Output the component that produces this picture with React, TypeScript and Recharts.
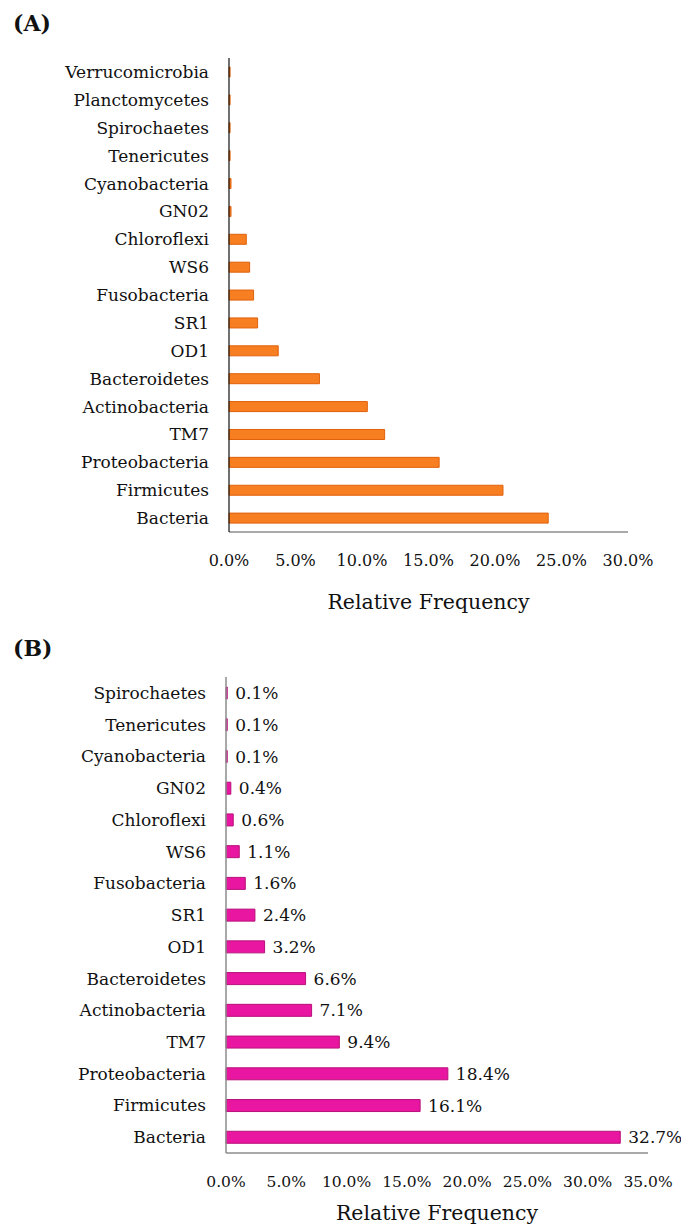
import { BarChart, Bar, XAxis, YAxis, LabelList } from "recharts";

// Panel A categories (top to bottom) and relative frequency (%)
const taxaA = [
  "Verrucomicrobia",
  "Planctomycetes",
  "Spirochaetes",
  "Tenericutes",
  "Cyanobacteria",
  "GN02",
  "Chloroflexi",
  "WS6",
  "Fusobacteria",
  "SR1",
  "OD1",
  "Bacteroidetes",
  "Actinobacteria",
  "TM7",
  "Proteobacteria",
  "Firmicutes",
  "Bacteria",
];
const freqA = [
  0.08, 0.08, 0.08, 0.08, 0.15, 0.15, 1.3, 1.55, 1.85, 2.15, 3.7, 6.8, 10.4,
  11.7, 15.8, 20.6, 24.0,
];
const ticksA = [0, 5, 10, 15, 20, 25, 30];

// Panel B
const taxaB = [
  "Spirochaetes",
  "Tenericutes",
  "Cyanobacteria",
  "GN02",
  "Chloroflexi",
  "WS6",
  "Fusobacteria",
  "SR1",
  "OD1",
  "Bacteroidetes",
  "Actinobacteria",
  "TM7",
  "Proteobacteria",
  "Firmicutes",
  "Bacteria",
];
const freqB = [
  0.1, 0.1, 0.1, 0.4, 0.6, 1.1, 1.6, 2.4, 3.2, 6.6, 7.1, 9.4, 18.4, 16.1, 32.7,
];
const ticksB = [0, 5, 10, 15, 20, 25, 30, 35];

const dataA = taxaA.map((name, i) => ({ name, value: freqA[i] }));
const dataB = taxaB.map((name, i) => ({ name, value: freqB[i] }));

const FONT = "'DejaVu Serif', serif";
const pct = (v: number) => `${v.toFixed(1)}%`;

const titleStyle: React.CSSProperties = {
  position: "absolute",
  left: 13,
  fontFamily: FONT,
  fontWeight: "bold",
  fontSize: 22,
  color: "#111",
};

export default function App() {
  return (
    <div
      style={{
        position: "absolute",
        left: 0,
        top: 0,
        width: 681,
        height: 1227,
        background: "#fff",
      }}
    >
      <div style={{ position: "relative", width: 681, height: 620 }}>
        <div style={{ ...titleStyle, top: 10 }}>(A)</div>
        <BarChart
          width={681}
          height={620}
          data={dataA}
          layout="vertical"
          barSize={10}
          margin={{ top: 58, right: 53, bottom: 8, left: 0 }}
        >
          <XAxis
            type="number"
            domain={[0, 30]}
            ticks={ticksA}
            tickFormatter={pct}
            tickLine={false}
            tickSize={0}
            tickMargin={23}
            height={80}
            axisLine={{ stroke: "#8c8c8c", strokeWidth: 1.5 }}
            tick={{ fill: "#111", fontSize: 16, fontFamily: FONT }}
            label={{
              value: "Relative Frequency",
              position: "insideBottom",
              offset: 3,
              fill: "#111",
              fontSize: 20.5,
              fontFamily: FONT,
            }}
          />
          <YAxis
            type="category"
            dataKey="name"
            width={229}
            tickLine={false}
            tickSize={0}
            tickMargin={20}
            interval={0}
            axisLine={{ stroke: "#111", strokeWidth: 1.2 }}
            tick={{ fill: "#111", fontSize: 17, fontFamily: FONT }}
          />
          <Bar
            dataKey="value"
            fill="#f77f22"
            stroke="#e0600a"
            strokeWidth={1}
            isAnimationActive={false}
          />
        </BarChart>
      </div>
      <div style={{ position: "relative", width: 681, height: 607 }}>
        <div style={{ ...titleStyle, top: 15 }}>(B)</div>
        <BarChart
          width={681}
          height={607}
          data={dataB}
          layout="vertical"
          barSize={12}
          margin={{ top: 57, right: 33, bottom: 4, left: 0 }}
        >
          <XAxis
            type="number"
            domain={[0, 35]}
            ticks={ticksB}
            tickFormatter={pct}
            tickLine={false}
            tickSize={0}
            tickMargin={23}
            height={70}
            axisLine={{ stroke: "#8c8c8c", strokeWidth: 1.5 }}
            tick={{ fill: "#111", fontSize: 15.5, fontFamily: FONT }}
            label={{
              value: "Relative Frequency",
              position: "insideBottom",
              offset: 3,
              fill: "#111",
              fontSize: 20.5,
              fontFamily: FONT,
            }}
          />
          <YAxis
            type="category"
            dataKey="name"
            width={226}
            tickLine={false}
            tickSize={0}
            tickMargin={20}
            interval={0}
            axisLine={{ stroke: "#8c8c8c", strokeWidth: 1.5 }}
            tick={{ fill: "#111", fontSize: 17, fontFamily: FONT }}
          />
          <Bar
            dataKey="value"
            fill="#e816a0"
            stroke="#b8107a"
            strokeWidth={1}
            isAnimationActive={false}
          >
            <LabelList
              dataKey="value"
              position="right"
              offset={8}
              formatter={(v: any) => pct(Number(v))}
              fill="#111"
              fontSize={17}
              fontFamily={FONT}
            />
          </Bar>
        </BarChart>
      </div>
    </div>
  );
}
